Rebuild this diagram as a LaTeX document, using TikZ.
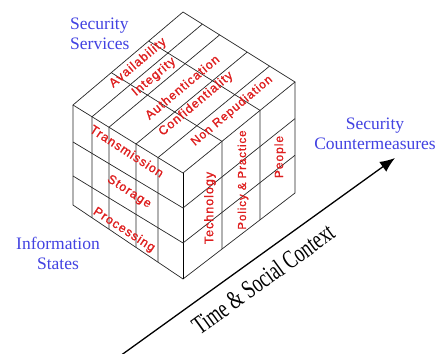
\documentclass[tikz,border=0pt]{standalone}
\usepackage{fontspec}
\usepackage{tikz}
\usetikzlibrary{calc,arrows.meta}
\newfontfamily\labelfont[LetterSpace=8,FakeBold=1.2]{Liberation Sans}
\newfontfamily\capfont{Liberation Serif}
\newfontfamily\ctxfont{Liberation Serif}
\definecolor{capblue}{RGB}{66,66,225}
\definecolor{labred}{RGB}{222,30,30}

\begin{document}
\begin{tikzpicture}[x=1pt,y=-1pt,
    grid/.style={black!85,line width=0.7pt},
    lbl/.style={text=labred,font=\labelfont\fontsize{12.5}{14}\selectfont,inner sep=0pt},
    bluelbl/.style={text=capblue,font=\capfont\fontsize{17.5}{19.5}\selectfont,inner sep=0pt}]
    \useasboundingbox (0,0) rectangle (440,354);
    % cube corners
    \coordinate (B) at (183,12);
    \coordinate (L) at (73,105);
    \coordinate (F) at (183,173);
    \coordinate (R) at (295,82);
    \coordinate (Lb) at (73,205);
    \coordinate (Fb) at (183,279);
    \coordinate (Rb) at (295,193);
    \draw[grid](L)--(B)--(R)--(F)--cycle;
    \draw[grid](L)--(Lb)--(Fb)--(Rb)--(R);
    \draw[line width=1pt](F)--(Fb);
    % services
    \foreach \t in {0.173,0.327,0.573,0.773}
      \draw[grid]($(B)!\t!(R)$)--($(L)!\t!(F)$)--($(Lb)!\t!(Fb)$);
    % countermeasures
    \foreach \t in {0.348,0.688}
      \draw[grid]($(L)!\t!(B)$)--($(F)!\t!(R)$)--($(Fb)!\t!(Rb)$);
    % information states
    \foreach \a/\b in {0.37/0.33,0.71/0.66}
      \draw[grid]($(L)!\a!(Lb)$)--($(F)!\b!(Fb)$)--($(R)!\b!(Rb)$);
    \node[lbl,rotate=40](avail) at (138,63){Availability};
    \node[lbl,rotate=40](integ) at (154,77){Integrity};
    \node[lbl,rotate=40](auth) at (182,87){Authentication};
    \node[lbl,rotate=40](conf) at (196,104){Confidentiality};
    \node[lbl,rotate=40,font=\labelfont\fontsize{12}{14}\selectfont](nonrep) at (232,111){Non Repudiation};
    \node[lbl,rotate=-33](trans) at (127,151){Transmission};
    \node[lbl,rotate=-33](stor) at (129,192){Storage};
    \node[lbl,rotate=-33](proc) at (124,230){Processing};
    \node[lbl,rotate=90](tech) at (210,208){Technology};
    \node[lbl,rotate=90,font=\labelfont\fontsize{11.5}{14}\selectfont](policy) at (243,180){Policy \& Practice};
    \node[lbl,rotate=90,font=\labelfont\fontsize{12}{14}\selectfont](people) at (280,157){People};
    \node[bluelbl,anchor=north west,align=left](services) at (70,18){Security\\Services};
    \node[bluelbl,anchor=north,align=center](states) at (58,237){Information\\States};
    \node[bluelbl,anchor=north,align=center](counter) at (375,118){Security\\Countermeasures};
    % time axis
    \coordinate (tail) at (120,356);
    \coordinate (tip) at (395,158);
    \draw[-{Latex[length=15pt,width=12pt]},line width=1.3pt](tail)--(tip);
    \node[font=\ctxfont\fontsize{26}{26}\selectfont,inner sep=0pt,rotate=36](context) at (263,279){\scalebox{0.7}[1]{Time \& Social Context}};
\end{tikzpicture}
\end{document}
